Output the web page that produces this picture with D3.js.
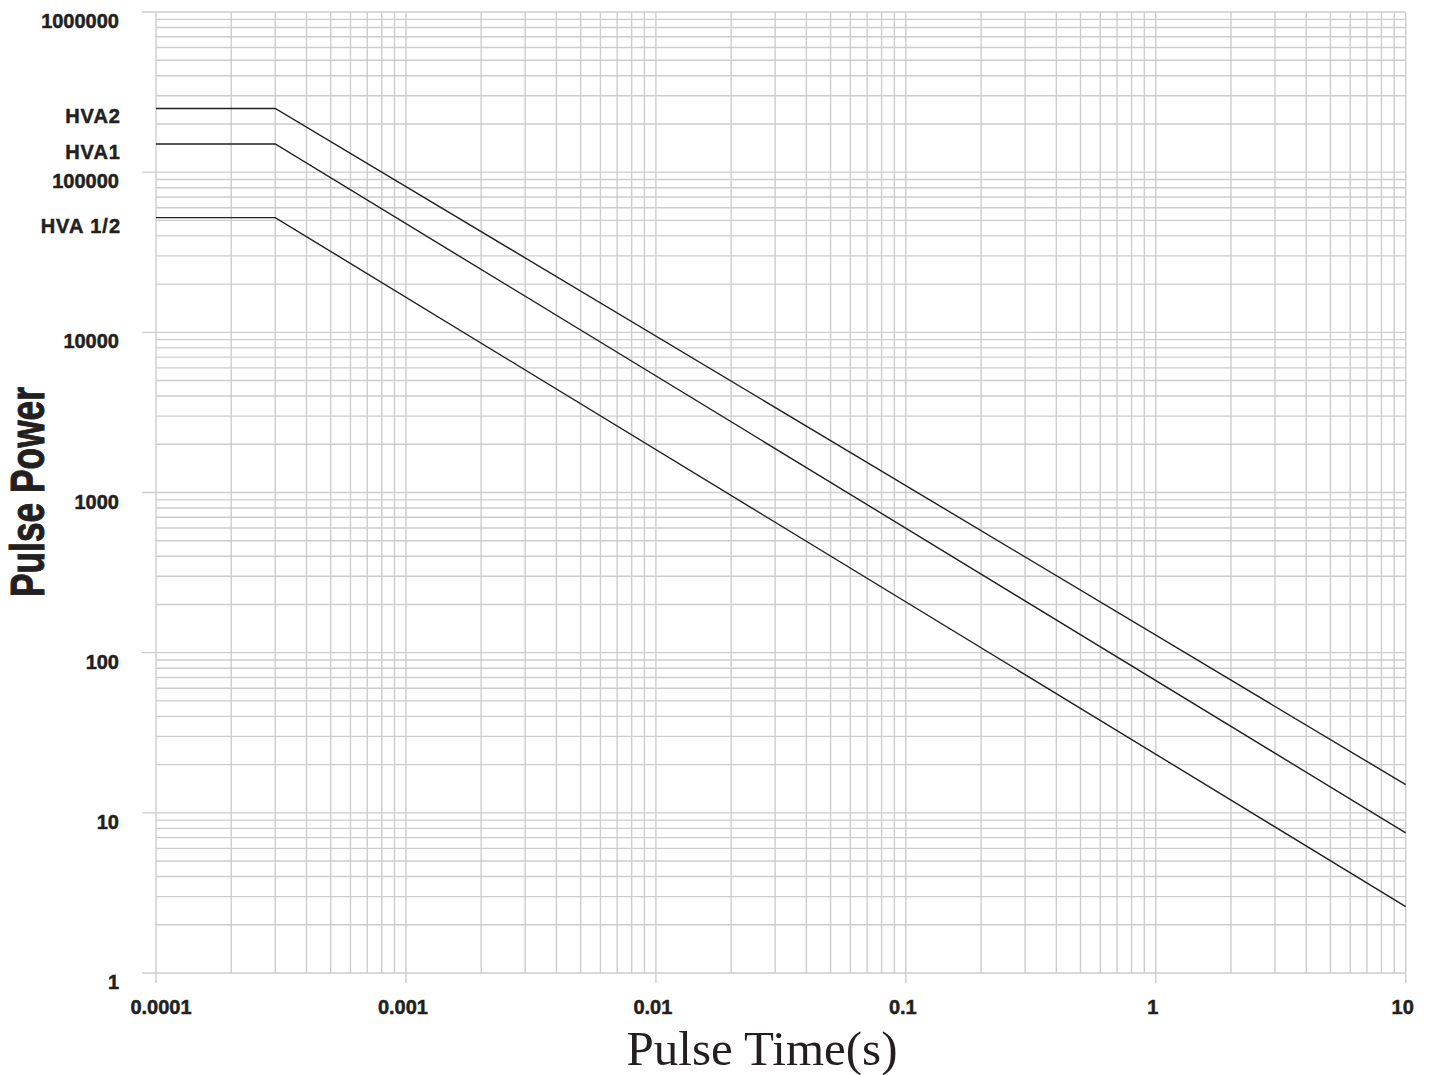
<!DOCTYPE html>
<html>
<head>
<meta charset="utf-8">
<script src="https://cdn.jsdelivr.net/npm/d3@7"></script>
<style>
  html, body { margin: 0; padding: 0; background: #fff; }
  svg { display: block; }
</style>
</head>
<body>
<svg id="chart" width="1430" height="1075"></svg>
<script>
// ---- data ----
const times = [0.0001, 0.0003, 10];
const seriesNames = ["HVA2", "HVA1", "HVA 1/2"];
const hva2 = [250000, 250000, 15];
const hva1 = [150000, 150000, 7.5];
const hvaHalf = [52000, 52000, 2.6];
const xTickValues = [0.0001, 0.001, 0.01, 0.1, 1, 10];
const xTickLabels = ["0.0001", "0.001", "0.01", "0.1", "1", "10"];
const yTickValues = [1, 10, 100, 1000, 10000, 100000, 1000000];
const yTickLabels = ["1", "10", "100", "1000", "10000", "100000", "1000000"];
const xTitle = "Pulse Time(s)";
const yTitle = "Pulse Power";

// ---- layout ----
const L = 156, R = 1405.7, T = 12, B = 973;
const svg = d3.select("#chart");
const x = d3.scaleLog().domain([0.0001, 10]).range([L, R]);
const y = d3.scaleLog().domain([1, 1000000]).range([B, T]);
const gridColor = "#cdcdcd";
const ink = "#231f20";
const isDecade = v => Math.abs(Math.log10(v) - Math.round(Math.log10(v))) < 1e-9;

// grid
const g = svg.append("g");
g.selectAll("line.v").data(x.ticks()).join("line")
  .attr("class", "v")
  .attr("x1", d => x(d)).attr("x2", d => x(d))
  .attr("y1", T).attr("y2", d => isDecade(d) ? B + 10 : B)
  .attr("stroke", gridColor).attr("stroke-width", 1.4);
g.selectAll("line.h").data(y.ticks()).join("line")
  .attr("class", "h")
  .attr("y1", d => y(d)).attr("y2", d => y(d))
  .attr("x1", d => isDecade(d) ? L - 14 : L).attr("x2", R)
  .attr("stroke", gridColor).attr("stroke-width", 1.4);

// series lines
const allSeries = [hva2, hva1, hvaHalf];
const line = d3.line().x((d, i) => x(times[i])).y(d => y(d));
svg.append("g").selectAll("path").data(allSeries).join("path")
  .attr("d", d => line(d))
  .attr("fill", "none").attr("stroke", ink).attr("stroke-width", 1.4);

// y tick labels
const font = "'Liberation Sans', Arial, sans-serif";
svg.append("g").selectAll("text").data(yTickValues).join("text")
  .attr("x", 119).attr("y", d => y(d) + 16)
  .attr("text-anchor", "end")
  .attr("font-family", font).attr("font-weight", "bold").attr("font-size", 20)
  .attr("fill", ink).attr("stroke", ink).attr("stroke-width", 0.5)
  .text((d, i) => yTickLabels[i]);

// series labels
svg.append("g").selectAll("text").data(allSeries).join("text")
  .attr("x", 121).attr("y", d => y(d[0]) + 15)
  .attr("text-anchor", "end")
  .attr("font-family", font).attr("font-weight", "bold").attr("font-size", 20)
  .attr("letter-spacing", 1)
  .attr("fill", ink).attr("stroke", ink).attr("stroke-width", 0.5)
  .text((d, i) => seriesNames[i]);

// x tick labels
svg.append("g").selectAll("text").data(xTickValues).join("text")
  .attr("x", (d, i) => x(d) + (i === 0 ? 5 : -3)).attr("y", 1014)
  .attr("text-anchor", "middle")
  .attr("font-family", font).attr("font-weight", "bold").attr("font-size", 20)
  .attr("fill", ink).attr("stroke", ink).attr("stroke-width", 0.5)
  .text((d, i) => xTickLabels[i]);

// axis titles
svg.append("text")
  .attr("x", 762).attr("y", 1065)
  .attr("text-anchor", "middle")
  .attr("font-family", "'Liberation Serif', 'DejaVu Serif', serif")
  .attr("font-size", 49)
  .attr("fill", ink)
  .text(xTitle);

svg.append("text")
  .attr("transform", "translate(44,492) rotate(-90)")
  .attr("text-anchor", "middle")
  .attr("font-family", font).attr("font-weight", "bold").attr("font-size", 48)
  .attr("textLength", 210).attr("lengthAdjust", "spacingAndGlyphs")
  .attr("fill", ink).attr("stroke", ink).attr("stroke-width", 1)
  .text(yTitle);
</script>
</body>
</html>
